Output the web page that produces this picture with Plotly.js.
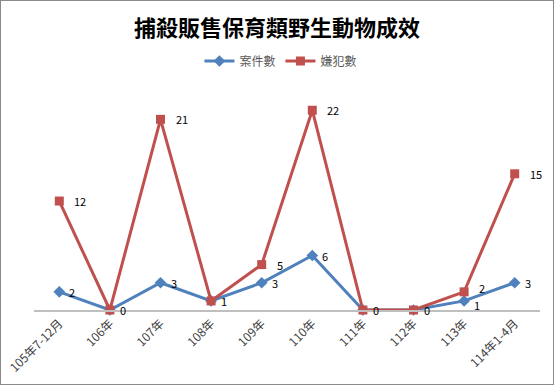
<!DOCTYPE html>
<html><head><meta charset="utf-8">
<script src="https://cdn.plot.ly/plotly-3.0.1.min.js"></script>
<style>
html,body{margin:0;padding:0;background:#fff;}
#chart{width:554px;height:385px;box-sizing:border-box;border:1px solid #898989;}
</style></head>
<body><div id="chart"></div>
<script>
const categories = ["105年7-12月","106年","107年","108年","109年","110年","111年","112年","113年","114年1-4月"];
const cases = [2,0,3,1,3,6,0,0,1,3];
const suspects = [12,0,21,1,5,22,0,0,2,15];
const font = '"Noto Sans CJK TC", "Noto Sans", sans-serif';
const traces = [
 {x:categories, y:cases, name:"案件數", type:"scatter", mode:"lines+markers",
  line:{color:"#4F81BD", width:3}, marker:{symbol:"diamond", size:9, color:"#4F81BD"}, cliponaxis:false},
 {x:categories, y:suspects, name:"嫌犯數", type:"scatter", mode:"lines+markers",
  line:{color:"#C0504D", width:3}, marker:{symbol:"square", size:9, color:"#C0504D"}, cliponaxis:false}
];
// data labels to the right of each point; where both series share a value the labels coincide, so draw it once
const annotations = [];
categories.forEach((c,i)=>{
  const close = Math.abs(suspects[i]-cases[i]) <= 1 && suspects[i]!==cases[i];
  annotations.push({x:c, y:cases[i], xref:"x", yref:"y", text:String(cases[i]), showarrow:false,
    xanchor:"left", yanchor:"middle", xshift:8, yshift: close ? -4 : 0,
    font:{family:font, size:11, color:"#000"}});
  if (suspects[i]!==cases[i]) {
    annotations.push({x:c, y:suspects[i], xref:"x", yref:"y", text:String(suspects[i]), showarrow:false,
      xanchor:"left", yanchor:"middle", xshift:13, yshift: close ? 4 : 0,
      font:{family:font, size:11, color:"#000"}});
  }
});
const layout = {
 width:552, height:383,
 margin:{l:33, r:13, t:82, b:74},
 paper_bgcolor:"#fff", plot_bgcolor:"#fff",
 title:{text:"<b>捕殺販售保育類野生動物成效</b>", x:0.5, xanchor:"center", y:0.928, yanchor:"middle",
   font:{family:font, size:22, color:"#000"}},
 showlegend:true,
 legend:{orientation:"h", x:0.488, xanchor:"center", y:1.097, yanchor:"middle",
   font:{family:font, size:12, color:"#595959"}},
 xaxis:{type:"category", range:[-0.5,9.5], showline:true, linecolor:"#BFBFBF", linewidth:2,
   showgrid:false, zeroline:false, ticks:"", tickangle:-45,
   tickfont:{family:font, size:12, color:"#404040"}},
 yaxis:{range:[0,25], visible:false, showgrid:false, zeroline:false},
 annotations: annotations,
 font:{family:font}
};
Plotly.newPlot("chart", traces, layout, {displayModeBar:false, staticPlot:true});
</script></body></html>
